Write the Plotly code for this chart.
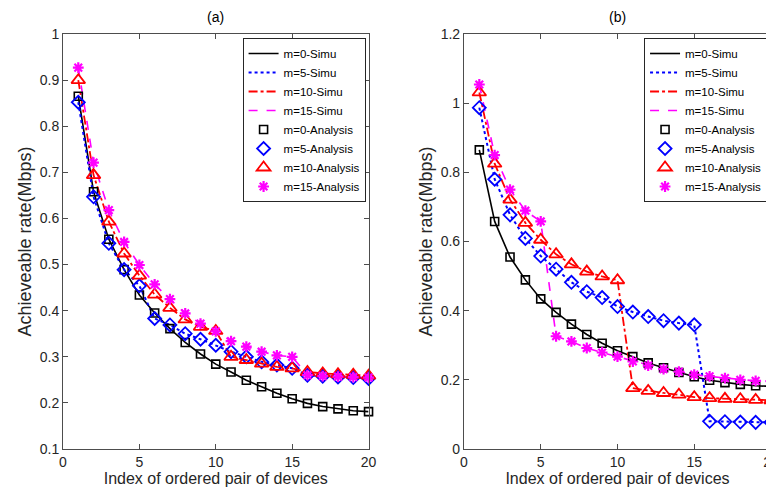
import plotly.graph_objects as go

# ---- data ----
idx = list(range(1, 21))

# panel (a)
m0_a = [0.865, 0.658, 0.555, 0.489, 0.434, 0.395, 0.361, 0.331, 0.306, 0.284,
        0.267, 0.249, 0.235, 0.221, 0.209, 0.199, 0.192, 0.187, 0.183, 0.181]
m5_a = [0.852, 0.647, 0.546, 0.489, 0.454, 0.383, 0.369, 0.350, 0.338, 0.325,
        0.311, 0.300, 0.289, 0.282, 0.275, 0.260, 0.258, 0.256, 0.255, 0.253]
m10_a = [0.900, 0.694, 0.593, 0.524, 0.476, 0.435, 0.406, 0.381, 0.365, 0.356,
         0.300, 0.293, 0.285, 0.278, 0.275, 0.267, 0.264, 0.262, 0.261, 0.259]
m15_a = [0.927, 0.721, 0.618, 0.549, 0.499, 0.457, 0.425, 0.394, 0.372, 0.355,
         0.334, 0.322, 0.311, 0.303, 0.300, 0.260, 0.258, 0.257, 0.256, 0.255]

# panel (b)
m0_b = [0.865, 0.658, 0.555, 0.489, 0.434, 0.395, 0.361, 0.331, 0.306, 0.284,
        0.267, 0.249, 0.235, 0.221, 0.209, 0.199, 0.192, 0.187, 0.183, 0.181]
m5_b = [0.987, 0.780, 0.677, 0.609, 0.558, 0.520, 0.482, 0.455, 0.438, 0.412,
        0.396, 0.383, 0.371, 0.364, 0.359, 0.080, 0.079, 0.078, 0.077, 0.077]
m10_b = [1.031, 0.825, 0.721, 0.654, 0.605, 0.563, 0.534, 0.513, 0.499, 0.488,
         0.176, 0.168, 0.162, 0.157, 0.150, 0.147, 0.145, 0.144, 0.142, 0.141]
m15_b = [1.054, 0.850, 0.750, 0.689, 0.658, 0.326, 0.311, 0.292, 0.279, 0.267,
         0.253, 0.241, 0.231, 0.224, 0.215, 0.210, 0.205, 0.200, 0.197, 0.196]

labels = ["m=0", "m=5", "m=10", "m=15"]
panel_a = [m0_a, m5_a, m10_a, m15_a]
panel_b = [m0_b, m5_b, m10_b, m15_b]

x_title = "Index of ordered pair of devices"
y_title = "Achieveable rate(Mbps)"

# ---- styles ----
colors = ["#000000", "#0000ff", "#ff0000", "#ff00ff"]
dashes = ["solid", "dot", "dashdot", "dash"]
lwidths = [1.6, 2.0, 1.8, 1.6]
symbols = ["square-open", "diamond-open", "triangle-up-open", "asterisk-open"]
msizes = [8, 10, 12, 9]
mlw = [1.6, 1.8, 1.8, 2.2]

FONT = "Liberation Sans, Arial, sans-serif"
TXT = "#262626"

fig = go.Figure()

for panel, xa, ya, leg, clip in [(panel_a, "x", "y", "legend", False),
                                 (panel_b, "x2", "y2", "legend2", True)]:
    for i, vals in enumerate(panel):
        fig.add_trace(go.Scatter(
            x=idx, y=vals, mode="lines", name=labels[i] + "-Simu",
            line=dict(color=colors[i], dash=dashes[i], width=lwidths[i]),
            xaxis=xa, yaxis=ya, legend=leg, cliponaxis=clip))
    for i, vals in enumerate(panel):
        fig.add_trace(go.Scatter(
            x=idx, y=vals, mode="markers", name=labels[i] + "-Analysis",
            marker=dict(symbol=symbols[i], size=msizes[i], color=colors[i],
                        line=dict(color=colors[i], width=mlw[i])),
            xaxis=xa, yaxis=ya, legend=leg, cliponaxis=clip))

axis_common = dict(
    showline=True, linecolor="#4d4d4d", linewidth=1, mirror="ticks",
    ticks="inside", ticklen=5, tickcolor="#4d4d4d", showgrid=False,
    zeroline=False, tickfont=dict(family=FONT, size=14, color=TXT),
)

W, H = 774, 488
ml, mr, mt, mb = 55, 3, 26, 47
pw = W - ml - mr
ph = H - mt - mb
d1 = (364 - ml) / pw
d2 = (460.5 - ml) / pw

legend_common = dict(
    bgcolor="white", bordercolor="#262626", borderwidth=1,
    font=dict(family=FONT, size=11.5, color="#000000"),
    xanchor="right", yanchor="top", tracegroupgap=0, itemwidth=30,
)

fig.update_layout(
    width=W, height=H,
    margin=dict(l=ml, r=mr, t=mt, b=mb),
    paper_bgcolor="white", plot_bgcolor="white",
    font=dict(family=FONT, color=TXT),
    xaxis=dict(domain=[0, d1], range=[0, 20], dtick=5, anchor="y",
               title=dict(text=x_title, font=dict(family=FONT, size=16, color=TXT), standoff=0),
               **axis_common),
    yaxis=dict(domain=[0, 1], range=[0.1, 1.0], dtick=0.1, anchor="x",
               title=dict(text=y_title, font=dict(family=FONT, size=18, color=TXT), standoff=3),
               **axis_common),
    xaxis2=dict(domain=[d2, 1], range=[0, 20], dtick=5, anchor="y2",
                title=dict(text=x_title, font=dict(family=FONT, size=16, color=TXT), standoff=0),
                **axis_common),
    yaxis2=dict(domain=[0, 1], range=[0, 1.2], dtick=0.2, anchor="x2",
                title=dict(text=y_title, font=dict(family=FONT, size=18, color=TXT), standoff=3),
                **axis_common),
    legend=dict(x=(361 - ml) / pw, y=1 - (30 - mt) / ph, **legend_common),
    legend2=dict(x=(767 - ml) / pw, y=1 - (30 - mt) / ph, **legend_common),
    showlegend=True,
    annotations=[
        dict(text="(a)", x=d1 / 2, y=1, xref="paper", yref="paper",
             xanchor="center", yanchor="bottom", yshift=7, showarrow=False,
             font=dict(family=FONT, size=14, color="#000000")),
        dict(text="(b)", x=(d2 + 1) / 2, y=1, xref="paper", yref="paper",
             xanchor="center", yanchor="bottom", yshift=7, showarrow=False,
             font=dict(family=FONT, size=14, color="#000000")),
    ],
)

fig.write_html("out.html")
